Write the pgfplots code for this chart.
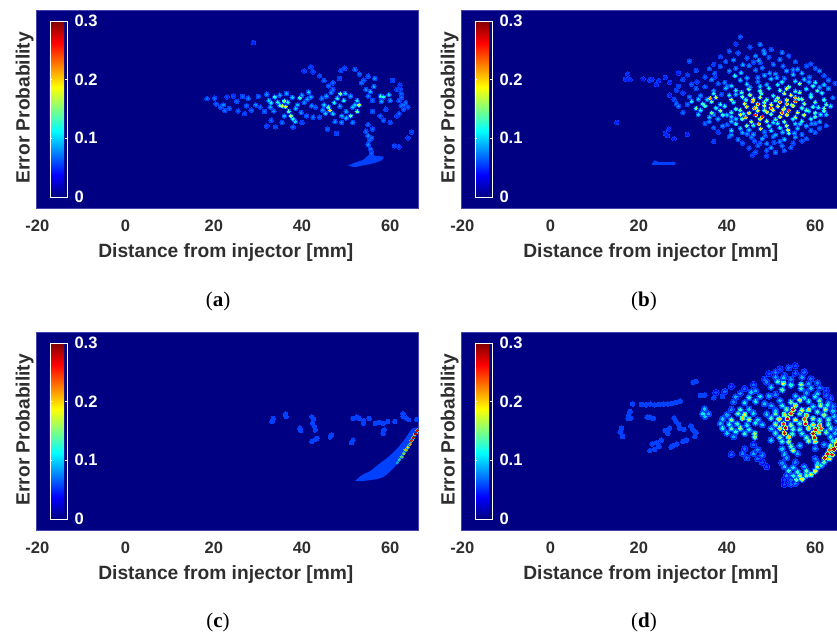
\documentclass[border=0pt]{standalone}
\usepackage{pgfplots}
\pgfplotsset{compat=1.18}
\usepackage{pgfplotstable}
\usepackage{fontspec}
\setmainfont{Liberation Sans}
\newfontfamily\capfont{Liberation Serif}
\definecolor{lowblue}{rgb}{0,0.25,1}
\definecolor{navybg}{rgb}{0,0,0.51}
\definecolor{framec}{rgb}{0.27,0.27,0.68}
\definecolor{labc}{rgb}{0.18,0.18,0.18}

\pgfplotstableread[row sep=\\]{x y v\\
18.5 2.4 .07\\ 20.2 2.5 .07\\ 20.5 1.2 .07\\ 21.5 .5 .07\\ 22.2 1.0 .08\\ 22.5 -.3 .07\\ 23 2.8 .06\\ 24.5 3.0 .06\\ 25.2 1.8 .07\\ 25.5 -.4 .07\\
26.5 2.9 .07\\ 27.8 2.5 .08\\ 27.4 .8 .07\\ 28.5 -.2 .07\\ 30.1 2.9 .07\\ 29.5 1.0 .08\\ 30.5 .5 .07\\ 31.5 -.5 .07\\ 27 -1 .06\\ 23.5 .2 .07\\
32 3.4 .08\\ 32.5 2 .1\\ 33 1.5 .11\\ 32.8 .5 .09\\ 33.8 2.8 .12\\ 34.5 1.6 .12\\ 35 .9 .14\\ 35.5 .8 .17\\ 36 1.9 .15\\ 36.3 .6 .18\\
36.8 1.6 .13\\ 37 -.5 .14\\ 37.5 -1.5 .17\\ 38 -2.2 .12\\ 38.5 -2.8 .1\\ 37.8 2.7 .1\\ 39 1.0 .09\\ 39.5 2.6 .13\\ 40 3.2 .09\\ 40.5 1.5 .08\\
41.2 2.3 .09\\ 41.5 3.9 .1\\ 42 2.8 .09\\ 42.2 .8 .08\\ 41 -1.5 .07\\ 42.5 -1.8 .08\\ 43 .5 .07\\ 44 -1.8 .07\\ 40 -3 .06\\ 38 -4 .07\\
34 -4 .06\\ 32 -3.8 .06\\ 33 -2.5 .07\\ 35.5 -3 .07\\ 33.6 -.4 .08\\ 35 3.2 .09\\ 36.5 3.6 .09\\ 38.6 .2 .1\\ 39.8 -.7 .08\\ 36 -1.5 .09\\
44.5 2.5 .08\\ 45 1 .1\\ 45.5 3 .09\\ 46 .5 .15\\ 46.3 -.2 .2\\ 47 -1 .1\\ 47.3 1.5 .12\\ 48 2.5 .12\\ 48.7 3.5 .16\\ 49.5 2 .12\\
49.8 3.6 .1\\ 50 -.5 .09\\ 50 -2 .1\\ 51 3 .09\\ 51.5 .5 .1\\ 52 1 .1\\ 52.5 2 .11\\ 53 1 .17\\ 52.5 -.5 .15\\ 51 -1.5 .14\\
49 -1.5 .09\\ 47.5 -2.8 .08\\ 45.8 -4.5 .07\\ 47.8 -5.5 .06\\ 49 -3 .08\\ 51.5 -3 .08\\ 45.3 -.9 .1\\ 44.7 -.2 .09\\ 46.6 3.8 .08\\ 48.6 .7 .09\\
42 9.6 .06\\ 40.5 8.7 .06\\ 42.5 8.5 .06\\ 44 7.6 .06\\ 45 6.5 .07\\ 46 5.3 .07\\ 47 4.5 .07\\ 48.5 7 .06\\ 48.8 8.8 .06\\ 47 6 .07\\
49.7 9.3 .06\\ 52 9 .07\\ 53 8 .07\\ 55 7.5 .07\\ 54 6.6 .07\\ 56.5 7 .08\\ 56.3 5.2 .09\\ 55.5 4 .09\\ 54.5 4.5 .08\\ 53.5 6 .07\\
57.8 3 .13\\ 58.5 2.8 .12\\ 59.7 3.3 .1\\ 60 2 .08\\ 55 3 .08\\ 58 1.8 .09\\ 60.5 6.5 .06\\ 56 2 .07\\ 56 -.5 .07\\ 57.7 -1.5 .07\\
58.5 -2.5 .07\\ 59 0 .06\\ 61.5 4.5 .06\\ 62.2 5.5 .06\\ 62.5 3.5 .07\\ 62 2 .07\\ 62.5 .8 .07\\ 63.5 1.5 .07\\ 64 0.5 .07\\ 63 0 .07\\
62 -1 .07\\ 61.5 -1.5 .06\\ 60 -3 .06\\ 62.3 4.5 .06\\ 62.6 2.7 .07\\ 63 1 .07\\ 55 -3.5 .07\\ 54.5 -5 .07\\ 55 -6 .08\\ 56 -4.5 .07\\
55.8 -6.5 .07\\ 55 -8 .08\\ 55.5 -9 .07\\ 55.8 -10 .07\\ 61 -8.3 .06\\ 62 -8.5 .06\\ 64 -6.5 .06\\ 64.8 -5.2 .06\\ 29 15.1 .05\\ 55.3 -7 .07\\
}\tabA

\pgfplotstableread[row sep=\\]{x y v\\
43 16.4 .07\\ 42 14.8 .06\\ 45.2 14.1 .07\\ 40.5 13.2 .07\\ 47.5 14.7 .08\\ 48.3 13.3 .08\\ 42.5 12.8 .07\\ 46.5 12.1 .08\\ 48.5 12.7 .09\\ 50 13.6 .07\\
52.5 12.9 .08\\ 38.5 11.9 .06\\ 41.5 11.2 .08\\ 44.5 11.6 .07\\ 47.2 11.1 .09\\ 49.5 11.8 .07\\ 52 11.3 .08\\ 54 12.1 .07\\ 37 10.2 .06\\ 39.7 10.8 .07\\
43.6 10.1 .09\\ 47.5 10.6 .07\\ 50.5 10.2 .08\\ 55.5 10.8 .07\\ 59 10.3 .07\\ 31.5 10.9 .07\\ 36 9.2 .07\\ 38.5 9.7 .07\\ 42 9.3 .08\\ 45 9.9 .08\\
48 9.4 .08\\ 52.7 9.8 .08\\ 56 9.1 .09\\ 58 9.8 .07\\ 60 9.3 .07\\ 29 8.2 .05\\ 33 8.8 .06\\ 37.2 8.1 .07\\ 40.5 8.7 .08\\ 43.2 8.3 .1\\
46.5 8.9 .08\\ 49.7 8.2 .09\\ 53.5 8.7 .09\\ 57 8.2 .1\\ 61 8.7 .08\\ 26 7.2 .05\\ 31 7.8 .06\\ 35 7.3 .07\\ 41.8 7.6 .12\\ 44.5 7.1 .09\\
48.5 7.7 .09\\ 51.3 7.2 .09\\ 55 7.9 .1\\ 58.7 7.3 .08\\ 62 7.6 .07\\ 22.5 6.6 .06\\ 27 6.1 .05\\ 30 6.8 .06\\ 33.2 6.2 .06\\ 36.5 6.7 .08\\
39.5 6.1 .08\\ 43 6.6 .1\\ 47 6.3 .08\\ 50 6.9 .1\\ 52.5 6.2 .12\\ 55.5 6.4 .11\\ 57.5 6.8 .1\\ 60 6.1 .12\\ 63 6.6 .08\\ 24 5.6 .05\\
29 5.2 .06\\ 32 5.7 .07\\ 35 5.1 .07\\ 38 5.8 .07\\ 41 5.3 .1\\ 44.5 5.7 .11\\ 47.5 5.2 .1\\ 51.5 5.6 .11\\ 54 5.1 .14\\ 56.5 5.8 .15\\
59.5 5.3 .13\\ 62 5.6 .1\\ 64.5 5.9 .07\\ 28.5 4.3 .06\\ 33 4.7 .07\\ 37 4.2 .08\\ 39.7 4.8 .1\\ 42 4.3 .13\\ 45 4.6 .15\\ 47.5 4.2 .14\\
49.5 4.8 .13\\ 52 4.3 .15\\ 53.5 4.7 .18\\ 55.5 4.1 .13\\ 58 4.6 .11\\ 60.5 4.2 .13\\ 63 4.7 .09\\ 27 3.2 .05\\ 30 3.7 .06\\ 34 3.1 .08\\
37 3.6 .12\\ 40.5 3.2 .12\\ 43.3 3.8 .14\\ 45.2 3.3 .17\\ 47.8 3.6 .14\\ 50.5 3.1 .12\\ 53 3.6 .17\\ 54.5 3.2 .19\\ 56.5 3.8 .15\\ 59 3.3 .11\\
61.5 3.7 .12\\ 28 2.2 .06\\ 31.5 2.8 .07\\ 33.5 2.3 .1\\ 36.2 2.5 .22\\ 37.5 2.7 .19\\ 41 2.2 .17\\ 43.5 2.8 .15\\ 46 2.3 .19\\ 47.5 2.7 .17\\
49 2.2 .14\\ 51.5 2.6 .16\\ 53.5 2.1 .2\\ 55.5 2.7 .22\\ 57 2.3 .17\\ 59 2.8 .13\\ 62 2.2 .13\\ 64 2.6 .08\\ 28.5 1.3 .07\\ 32 1.8 .12\\
34.5 1.2 .13\\ 36.5 1.7 .14\\ 38.5 1.1 .12\\ 41.5 1.6 .12\\ 44 1.3 .18\\ 45.8 1.8 .21\\ 47 1.2 .25\\ 48.5 1.6 .16\\ 50 1.1 .19\\ 52 1.7 .24\\
53.5 1.2 .22\\ 55.5 1.8 .25\\ 57.5 1.3 .16\\ 60 1.6 .14\\ 62.5 1.1 .14\\ 29 .7 .08\\ 33 .2 .15\\ 35 .8 .14\\ 37.5 .3 .12\\ 39.5 .7 .13\\
42 .1 .14\\ 44.5 .6 .2\\ 46.2 .2 .23\\ 48.5 .8 .18\\ 50 .3 .26\\ 51.5 .7 .2\\ 53 .2 .18\\ 55 .8 .2\\ 57 .3 .14\\ 59.5 .6 .13\\
62 .2 .15\\ 63.5 .7 .12\\ 30 -.7 .07\\ 34 -.2 .12\\ 36.5 -.8 .14\\ 38.5 -.3 .16\\ 41 -.7 .13\\ 43 -.2 .15\\ 45 -.8 .2\\ 47 -.3 .19\\
49 -.6 .2\\ 50.5 -.2 .19\\ 52.5 -.8 .25\\ 54 -.3 .25\\ 56 -.7 .18\\ 58 -.2 .15\\ 60 -.8 .13\\ 62 -.3 .14\\ 33.5 -1.2 .1\\ 36 -1.8 .1\\
39 -1.3 .13\\ 41 -1.7 .1\\ 43 -1.2 .18\\ 44.2 -1.8 .22\\ 46.5 -1.3 .25\\ 48 -1.7 .26\\ 50 -1.1 .16\\ 52 -1.7 .19\\ 53.6 -1.2 .2\\ 55.5 -1.8 .17\\
57.5 -1.3 .19\\ 60 -1.7 .13\\ 62.5 -1.2 .1\\ 36 -2.8 .08\\ 38 -2.2 .09\\ 41 -2.7 .1\\ 43.5 -2.2 .15\\ 45.5 -2.8 .16\\ 47.5 -2.2 .2\\ 49 -2.7 .17\\
51 -2.3 .14\\ 53 -2.8 .15\\ 55 -2.2 .12\\ 57 -2.7 .14\\ 59 -2.2 .12\\ 61 -2.8 .09\\ 35 -3.2 .07\\ 39 -3.8 .08\\ 42 -3.3 .12\\ 44.5 -3.7 .15\\
47.2 -3.3 .22\\ 49.5 -3.8 .13\\ 51.5 -3.2 .12\\ 53.5 -3.7 .17\\ 55.5 -3.3 .1\\ 58 -3.8 .09\\ 60 -3.2 .08\\ 62.5 -3.7 .07\\ 37 -4.2 .07\\ 41 -4.8 .11\\
43 -4.3 .1\\ 45 -4.7 .1\\ 47.6 -4.4 .2\\ 50 -4.8 .11\\ 52 -4.2 .12\\ 53.8 -4.7 .19\\ 56 -4.3 .1\\ 59 -4.8 .08\\ 61 -4.3 .07\\ 31 -5.7 .05\\
38 -5.2 .06\\ 41 -5.8 .08\\ 43.5 -5.3 .09\\ 46 -5.7 .09\\ 48.5 -5.2 .08\\ 51 -5.8 .09\\ 54 -5.4 .15\\ 57 -5.7 .08\\ 60 -5.3 .07\\ 28 -6.7 .05\\
40.5 -6.2 .07\\ 42.5 -6.8 .08\\ 45.5 -6.3 .08\\ 48 -6.7 .09\\ 50.5 -6.2 .08\\ 53 -6.8 .1\\ 55.5 -6.3 .09\\ 58 -6.7 .07\\ 37 -7.3 .06\\ 43.5 -7.7 .07\\
46.2 -7.2 .07\\ 49 -7.8 .08\\ 52 -7.3 .08\\ 55 -7.7 .07\\ 57 -7.2 .07\\ 45 -8.8 .07\\ 47 -8.2 .07\\ 50 -8.7 .09\\ 52.5 -8.3 .08\\ 54.5 -8.7 .07\\
46.5 -9.7 .07\\ 49 -9.3 .07\\ 51 -9.8 .08\\ 53 -9.4 .07\\ 45.8 -10.4 .06\\ 49 -10.6 .06\\ 17.5 8 .05\\ 17.5 6.7 .05\\ 15 -3 .05\\ 21 6.9 .05\\
23 6.8 .05\\ 24.5 6.5 .05\\ 26 -5.5 .05\\ 26.8 -4.5 .05\\ 17 6.8 .05\\ 18 6.7 .05\\ 26.5 -6 .05\\ 
38.8 3.4 .07\\ 35.5 2.2 .1\\ 31 1.1 .07\\ 40 -1.3 .1\\ 42 3.4 .1\\ 44.3 2.2 .13\\ 46.6 .4 .17\\ 48.5 -.2 .16\\ 51 2 .15\\ 52.8 -.1 .17\\
54.7 1 .17\\ 56.3 2.4 .15\\ 58.5 -.4 .12\\ 60.7 .4 .12\\ 61.2 -1.2 .11\\ 45.2 5 .09\\ 49 5.6 .09\\ 53 7 .08\\ 58.6 6.2 .09\\ 61 5 .09\\
40 5.2 .08\\ 37.3 7.3 .06\\ 47 7.2 .08\\ 51 8 .08\\ 55 9 .08\\ 46 10.7 .07\\ 50.5 -3 .11\\ 46 -3.6 .13\\ 43.7 -1 .12\\ 42 -2.2 .1\\
40 -3.5 .07\\ 37 -1.2 .08\\ 48.7 -6 .07\\ 52.6 -5.2 .1\\ 56.6 -3.3 .1\\ 59.2 -3.3 .08\\ 50.7 -7.5 .07\\ 47.5 -7.7 .07\\ 44.5 -5.6 .08\\ 55.3 -5.4 .09\\
}\tabB

\pgfplotstableread[row sep=\\]{x y v\\
33.5 2.9 .06\\ 33.2 2.2 .06\\ 36.3 3.9 .06\\ 36.4 3.3 .06\\ 39.5 .7 .06\\ 39.7 .2 .06\\ 42.2 3.3 .06\\ 42.6 2.7 .06\\ 42.4 1.8 .06\\ 42.9 1.0 .06\\
43 .3 .06\\ 42.2 -2.3 .06\\ 42.9 -1.9 .06\\ 43.4 -1.6 .06\\ 46.7 -.8 .06\\ 46.4 -1.3 .06\\ 51.2 -2.6 .06\\ 51.6 -2 .06\\ 51.6 2.9 .06\\ 52.4 3.2 .06\\
53.9 1.8 .06\\ 54 2.4 .06\\ 55.2 2.9 .06\\ 56.6 1.8 .06\\ 58.4 -.5 .06\\ 58.6 .3 .06\\ 58.4 1.8 .06\\ 59.4 2.2 .06\\ 61 2.2 .06\\ 62.9 3.4 .06\\
63.6 3.0 .06\\ 64.2 2.6 .06\\ 62.9 4.0 .06\\ 66 2.7 .06\\ 53 2.9 .06\\ 57.5 2 .06\\ 
}\tabC

\pgfplotstableread[row sep=\\]{x y v\\
18 4.5 .06\\ 17.7 3.7 .06\\ 18.2 3 .06\\ 17.6 2.9 .06\\ 16.1 .7 .06\\ 16.3 -1.2 .07\\ 15.8 -.2 .06\\ 21.9 3.2 .08\\ 22.5 3.2 .08\\ 23.3 2.9 .08\\
18.6 6.2 .06\\ 20.6 6.1 .06\\ 21.6 6 .06\\ 22.6 6.2 .06\\ 23.6 6 .06\\ 24.6 6.1 .06\\ 25.6 6.2 .06\\ 26.6 6.2 .06\\ 27.6 6.3 .06\\ 28.5 6.5 .06\\
29.4 6.8 .06\\ 32.3 11.1 .06\\ 33 11.3 .06\\ 28.5 2.2 .08\\ 28 3 .08\\ 29.3 .7 .08\\ 29 1.6 .08\\ 30.2 .4 .07\\ 27 .7 .07\\ 26.6 -.5 .07\\
26 .2 .07\\ 32.3 .3 .07\\ 32.7 -1.2 .07\\ 33 -.3 .07\\ 31.8 1.2 .07\\ 23 -2.9 .06\\ 24 -2.6 .06\\ 25.1 -2 .06\\ 22.5 -4.4 .06\\ 23.6 -4.1 .06\\
24.6 -3.4 .06\\ 27.3 -3.6 .06\\ 27.8 -3.3 .06\\ 28.6 -2.9 .06\\ 30 -2.3 .06\\ 30.8 -2 .06\\ 35 8.2 .06\\ 34 8.1 .06\\ 37 7.6 .06\\ 39 7.9 .06\\
}\tabDf

\pgfplotstableread[row sep=\\]{x y v\\
52 14.1 .06\\ 54 14.4 .07\\ 55.5 14.9 .06\\ 49.5 13.1 .06\\ 51 13.4 .08\\ 53 12.7 .07\\ 55.5 13.2 .07\\ 57.5 13.4 .07\\ 48.5 11.8 .07\\ 51 12.3 .09\\
52.8 12.2 .1\\ 54.5 11.8 .08\\ 57 12.3 .09\\ 59 11.9 .07\\ 46 10.6 .07\\ 49 11.2 .08\\ 51.5 11.3 .13\\ 52.8 10.9 .18\\ 54.5 10.5 .12\\ 56.8 10.6 .16\\
58.5 10.8 .09\\ 60.5 11 .08\\ 41 10.2 .06\\ 44 9.7 .07\\ 46.5 9.2 .09\\ 50 10 .1\\ 52.5 9.4 .14\\ 56.8 9.7 .13\\ 59 9.8 .1\\ 61 9.9 .08\\
62.5 9.3 .06\\ 37.5 8.8 .06\\ 39.5 9 .07\\ 43 8.6 .08\\ 45.5 8.9 .1\\ 51 8.4 .08\\ 58 8.7 .09\\ 60.5 8.6 .1\\ 62.5 8.2 .07\\ 42 7.8 .09\\
45 7.7 .13\\ 47.5 7.9 .11\\ 49.5 8 .09\\ 55.5 8 .1\\ 57.5 7.6 .11\\ 60 7.9 .12\\ 63.5 7.5 .07\\ 41.5 6.7 .08\\ 44 6.5 .11\\ 46.5 6.8 .12\\
48.5 6.3 .1\\ 52 7 .1\\ 54.5 6.6 .14\\ 56.5 7.1 .17\\ 58.5 6.8 .12\\ 61 7 .14\\ 63 6.5 .09\\ 50 5.8 .09\\ 52.5 5.8 .12\\ 55.5 5.9 .2\\
59.5 5.6 .11\\ 61.2 5.9 .16\\ 62.8 6 .12\\ 64 5.7 .08\\ 34.9 5.1 .1\\ 41 5 .08\\ 43 4.9 .13\\ 45 5 .1\\ 51 4.7 .1\\ 53.5 5 .15\\
55 5 .26\\ 57 4.8 .18\\ 58.5 4.9 .2\\ 60.5 4.4 .13\\ 62.3 5 .17\\ 64 4.6 .1\\ 34.5 4 .11\\ 35.8 4 .09\\ 35 3.4 .1\\ 40 3.7 .09\\
42.5 4 .14\\ 44 3.8 .19\\ 46 4.1 .11\\ 49 3.9 .1\\ 51 4 .14\\ 53 3.8 .2\\ 54.5 4 .25\\ 56.5 4 .14\\ 58 3.6 .22\\ 62 3.7 .15\\
64.3 3.4 .1\\ 39 2.8 .1\\ 41 2.6 .15\\ 43.5 3 .2\\ 45 2.7 .17\\ 47 2.6 .1\\ 50 3 .13\\ 51.8 2.8 .2\\ 53.7 2.9 .27\\ 55.5 2.6 .18\\
57.6 2.8 .24\\ 59.5 2.9 .16\\ 61 2.5 .14\\ 63 2.7 .14\\ 65 2.4 .1\\ 38.5 1.8 .1\\ 40.5 1.6 .12\\ 42.3 1.7 .13\\ 44.5 1.4 .11\\ 46.5 1.9 .12\\
48 1.5 .1\\ 51 1.6 .16\\ 52.8 1.7 .25\\ 54.5 1.4 .16\\ 56.5 1.8 .14\\ 57.8 1.8 .27\\ 59.5 1.5 .2\\ 61 1.4 .23\\ 63 1.6 .14\\ 39 .7 .12\\
41 .6 .14\\ 43 .7 .16\\ 45 .4 .12\\ 50 .6 .1\\ 52 .7 .2\\ 53.3 .8 .28\\ 55 .5 .14\\ 56.5 .4 .13\\ 58.5 .7 .2\\ 60 .4 .27\\
61.3 .6 .24\\ 63.5 .7 .13\\ 65 .5 .09\\ 40 -.4 .1\\ 42 -.1 .12\\ 44 -.5 .13\\ 46.3 -.5 .16\\ 51 -.4 .13\\ 53 -.4 .27\\ 54.8 -.6 .13\\
57 -.5 .12\\ 59.5 -.5 .28\\ 60.8 -.3 .2\\ 62.5 -.2 .14\\ 64.5 -.4 .1\\ 41.5 -1.2 .09\\ 46.3 -1.3 .15\\ 52 -1.4 .15\\ 54 -1.3 .2\\ 58 -1.4 .14\\
59.8 -1.4 .27\\ 63.5 -1.3 .11\\ 50 -2 .1\\ 52.5 -2.3 .13\\ 54 -2.4 .16\\ 58.5 -2.2 .16\\ 60 -2.3 .2\\ 64 -2.2 .12\\ 65 -2 .2\\ 46 -3 .07\\
54.5 -3.4 .14\\ 56.5 -3.2 .1\\ 62 -3 .09\\ 63.5 -3.3 .16\\ 64.8 -3 .28\\ 44 -4 .07\\ 47 -4.2 .08\\ 52.5 -4 .1\\ 55 -4.3 .17\\ 60 -3.9 .09\\
63.3 -4.2 .24\\ 64.3 -4 .29\\ 41 -5.2 .07\\ 43.5 -5 .08\\ 46 -5 .09\\ 48 -5.4 .08\\ 53 -5.2 .1\\ 56 -5 .09\\ 62.8 -5.1 .27\\ 63.8 -5.3 .26\\
44.5 -6 .07\\ 47 -6.2 .07\\ 53.5 -6 .09\\ 60 -6.2 .08\\ 62.2 -6 .28\\ 63.2 -6.2 .18\\ 48 -7 .06\\ 52.5 -7.2 .08\\ 55.5 -7 .08\\ 60.5 -7.1 .1\\
62 -7 .14\\ 49 -8 .06\\ 53 -8 .1\\ 55 -8.2 .11\\ 57.5 -8 .09\\ 60.5 -8 .17\\ 61.3 -7.8 .12\\ 54 -9 .12\\ 56 -9.2 .13\\ 58 -9 .14\\
60 -9 .18\\ 53.5 -10 .08\\ 55 -10.1 .12\\ 56.5 -10 .16\\ 58 -10 .15\\ 59 -9.8 .18\\ 53 -11 .06\\ 54.5 -11 .07\\ 55.7 -11 .14\\ 57 -10.8 .19\\
53 -12 .06\\ 54.5 -12 .07\\ 55.5 -11.8 .08\\
}\tabD

\pgfplotstableread[row sep=\\]{x y v\\
61.6 -7.1 .1\\ 62.0 -6.5 .12\\ 62.6 -5.8 .14\\ 63.1 -5.0 .16\\ 63.5 -4.2 .18\\ 64 -3.6 .19\\ 64.5 -2.9 .22\\ 64.8 -2.1 .25\\ 65.2 -1.4 .27\\ 65.7 -.6 .28\\ 66.1 .2 .26\\
}\tabCarc

\pgfplotsset{
  panel/.style={
    scale only axis, width=382pt, height=197.5pt,
    xmin=-20.3, xmax=66.3, ymin=-22.4, ymax=22.4,
    axis background/.style={fill=navybg},
    axis line style={framec, line width=0.7pt},
    xtick={-20,0,20,40,60}, ytick=\empty,
    major tick length=0pt,
    clip=true,
    /pgf/number format/assume math mode=true,
    xticklabel style={font=\fontsize{16.5}{18}\selectfont\bfseries, text=labc, yshift=-8pt},
    xlabel={Distance from injector [mm]},
    xlabel style={font=\fontsize{19.2}{21}\selectfont\bfseries, text=labc, at={(axis description cs:0.497,-0.224)}, anchor=center},
    ylabel={Error Probability},
    ylabel style={font=\fontsize{19.2}{21}\selectfont\bfseries, text=labc, at={(axis description cs:-0.030,0.508)}, anchor=center, rotate=0},
    colormap/jet, point meta min=0, point meta max=0.3,
    colorbar,
    colorbar style={
      at={(0.0366,0.947)}, anchor=north west,
      width=17pt, height=176pt,
      ytick={0,0.1,0.2,0.3}, yticklabels={0,0.1,0.2,0.3},
      ymin=0, ymax=0.3,
      axis line style={white, line width=0.7pt},
      tick style={white, line width=0.5pt},
      major tick length=2pt, tick align=inside,
      ylabel={}, xlabel={},
      yticklabel pos=right,
      yticklabel style={font=\fontsize{16.5}{18}\selectfont\bfseries, text=white, xshift=4pt},
      /pgf/number format/assume math mode=true,
    },
  },
}
\newcommand\speck[5]{%
  \addplot[only marks, mark=*, mark size=#2, color=lowblue, mark options={line width=0pt}] table[x=x,y=y] {#1};
  \addplot[scatter, only marks, mark=*, mark size=#3, scatter src=explicit, scatter/use mapped color={draw=mapped color, fill=mapped color}, mark options={line width=0pt}] table[x=x,y=y,meta expr=\thisrow{v}*#5] {#1};
  \addplot[scatter, only marks, mark=*, mark size=#4, scatter src=explicit, scatter/use mapped color={draw=mapped color, fill=mapped color}, mark options={line width=0pt}] table[x=x,y=y,meta=v] {#1};
}

\begin{document}
\begin{tikzpicture}[x=1pt,y=1pt]
\clip[use as bounding box] (0pt,0pt) rectangle (837pt,635pt);

\begin{axis}[panel, at={(36pt,427pt)}, anchor=south west]
\speck{\tabA}{2.3}{1.5}{0.8}{0.75}
\addplot[fill=lowblue, draw=none, smooth] coordinates {(50.5,-12.8) (52,-12.1) (54,-11.4) (55,-10.4) (56,-10.4) (57,-10.6) (58.5,-10.8) (58,-11.6) (56,-12.3) (54,-12.7) (52,-13.1) (50.5,-12.8)};
\end{axis}

\begin{axis}[panel, at={(461pt,427pt)}, anchor=south west]
\speck{\tabB}{2.2}{1.5}{0.8}{0.75}
\addplot[fill=lowblue, draw=none] coordinates {(23,-12.3) (23.6,-11.6) (24.6,-12) (28.3,-12) (28.3,-12.6) (23,-12.6)} -- cycle;
\end{axis}

\begin{axis}[panel, at={(36pt,105pt)}, anchor=south west]
\addplot[only marks, mark=*, mark size=2.2, color=lowblue, mark options={line width=0pt}] table[x=x,y=y] {\tabC};
\addplot[fill=lowblue, draw=none, smooth] coordinates {(52,-11.3) (54.6,-11.2) (58.4,-10.4) (61.4,-7.6) (64,-4.1) (66.5,.3) (65,.6) (63.3,-1.8) (61.6,-3.9) (59.6,-5.8) (57.5,-7.4) (55.5,-9) (53.5,-10) (52,-11.3)};
\addplot[scatter, only marks, mark=*, mark size=1.7, scatter src=explicit, mark options={line width=0pt}] table[x=x,y=y,meta expr=\thisrow{v}*0.6] {\tabCarc};
\addplot[scatter, only marks, mark=*, mark size=1.0, scatter src=explicit, mark options={line width=0pt}] table[x=x,y=y,meta=v] {\tabCarc};
\end{axis}

\begin{axis}[panel, at={(461pt,105pt)}, anchor=south west]
\addplot[only marks, mark=*, mark size=2.3, color=lowblue, mark options={line width=0pt}] table[x=x,y=y] {\tabDf};
\speck{\tabD}{3.2}{2.2}{1.3}{0.6}
\end{axis}

\node[font=\capfont\fontsize{21}{23}\selectfont] at (218pt,333.5pt) {(\textbf{a})};
\node[font=\capfont\fontsize{21}{23}\selectfont] at (644pt,333.5pt) {(\textbf{b})};
\node[font=\capfont\fontsize{21}{23}\selectfont] at (218pt,12.5pt) {(\textbf{c})};
\node[font=\capfont\fontsize{21}{23}\selectfont] at (644pt,12.5pt) {(\textbf{d})};
\end{tikzpicture}
\end{document}
